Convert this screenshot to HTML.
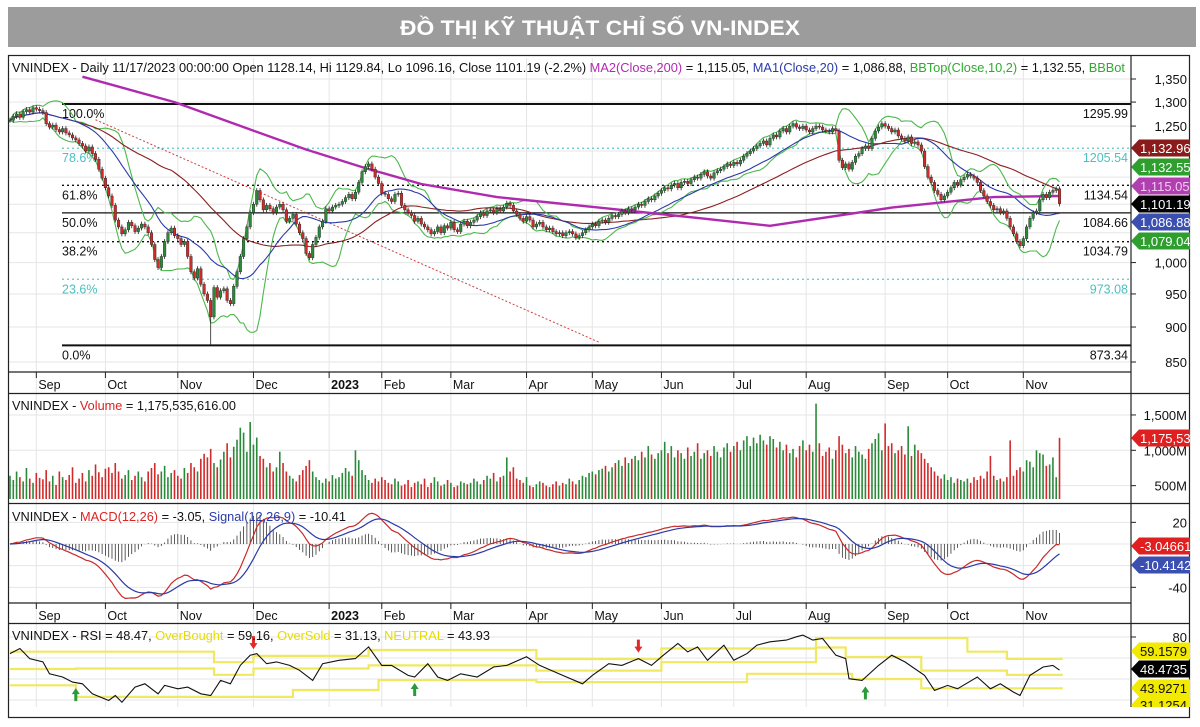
<!DOCTYPE html>
<html><head><meta charset="utf-8"><title>VN-INDEX technical chart</title>
<style>
html,body{margin:0;padding:0;background:#fff;}
svg{display:block;font-family:"Liberation Sans","Noto Sans CJK SC",sans-serif;}
</style></head>
<body>
<svg id="chart" width="1200" height="727" viewBox="0 0 1200 727" xmlns="http://www.w3.org/2000/svg">
<defs>
<clipPath id="cpMain"><rect x="8" y="58" width="1123" height="314"/></clipPath>
<clipPath id="cpVol"><rect x="8" y="394" width="1123" height="109"/></clipPath>
<clipPath id="cpMacd"><rect x="8" y="504" width="1123" height="99"/></clipPath>
<clipPath id="cpRsi"><rect x="8" y="624" width="1123" height="92"/></clipPath>
<clipPath id="cpRight"><rect x="1131" y="55" width="59" height="652"/></clipPath>
</defs>
<rect x="0" y="0" width="1200" height="727" fill="#fff"/>
<rect x="8" y="7" width="1188" height="40" fill="#9c9c9c"/>
<text x="600" y="35" text-anchor="middle" fill="#fff" font-weight="bold" font-size="21" textLength="400" lengthAdjust="spacingAndGlyphs">ĐỒ THỊ KỸ THUẬT CHỈ SỐ VN-INDEX</text>

<g id="grid"></g>
<g id="marks"></g>

<g fill="none" stroke="#222" stroke-width="1.2">
<rect x="8.5" y="55.5" width="1181" height="662"/>
<line x1="1131" y1="55" x2="1131" y2="707"/>
<line x1="8" y1="372" x2="1131" y2="372"/>
<line x1="8" y1="393.5" x2="1190" y2="393.5"/>
<line x1="8" y1="503.5" x2="1190" y2="503.5"/>
<line x1="8" y1="603" x2="1131" y2="603"/>
<line x1="8" y1="623.5" x2="1190" y2="623.5"/>
</g>

<text x="12" y="72" font-size="13" textLength="1113" lengthAdjust="spacingAndGlyphs" fill="#111">VNINDEX - Daily 11/17/2023 00:00:00 Open 1128.14, Hi 1129.84, Lo 1096.16, Close 1101.19 (-2.2%) <tspan fill="#b02ab0">MA2(Close,200)</tspan> = 1,115.05, <tspan fill="#2a3aa8">MA1(Close,20)</tspan> = 1,086.88, <tspan fill="#2faa2f">BBTop(Close,10,2)</tspan> = 1,132.55, <tspan fill="#2faa2f">BBBot</tspan></text>
<text x="12" y="410" font-size="13" textLength="224" lengthAdjust="spacingAndGlyphs" fill="#111">VNINDEX - <tspan fill="#d22">Volume</tspan> = 1,175,535,616.00</text>
<text x="12" y="521" font-size="13" textLength="334" lengthAdjust="spacingAndGlyphs" fill="#111">VNINDEX - <tspan fill="#d22">MACD(12,26)</tspan> = -3.05, <tspan fill="#2a3aa8">Signal(12,26,9)</tspan> = -10.41</text>
<text x="12" y="640" font-size="13" textLength="478" lengthAdjust="spacingAndGlyphs" fill="#111">VNINDEX - RSI = 48.47, <tspan fill="#e6dc00">OverBought</tspan> = 59.16, <tspan fill="#e6dc00">OverSold</tspan> = 31.13, <tspan fill="#e6dc00">NEUTRAL</tspan> = 43.93</text>
<g id="right" clip-path="url(#cpRight)"></g>
</svg>
<script>
// ===== data =====
const closes = [1262,1270,1275,1268,1280,1284,1279,1288,1285,1282,
1278,1255,1248,1252,1243,1238,1245,1236,1232,1226,
1222,1215,1210,1200,1208,1195,1184,1165,1148,1130,
1115,1098,1072,1060,1048,1055,1068,1062,1052,1058,
1065,1060,1050,1030,1005,992,1010,1035,1050,1058,
1045,1040,1030,1035,1010,985,975,990,965,950,
940,915,960,945,955,958,940,935,962,985,
1010,1040,1060,1085,1100,1125,1108,1090,1098,1092,
1085,1095,1100,1090,1070,1075,1082,1065,1050,1040,
1015,1008,1030,1042,1060,1070,1092,1088,1095,1098,
1100,1105,1112,1118,1110,1122,1140,1160,1170,1175,
1165,1150,1138,1120,1118,1110,1105,1118,1120,1098,
1090,1085,1080,1070,1075,1065,1060,1055,1048,1052,
1060,1050,1062,1058,1068,1055,1052,1065,1070,1062,
1068,1072,1078,1085,1080,1088,1090,1085,1092,1088,
1095,1102,1098,1088,1082,1075,1070,1078,1072,1060,
1065,1068,1060,1055,1058,1052,1048,1050,1045,1050,
1052,1048,1042,1045,1050,1055,1060,1065,1062,1070,
1072,1068,1075,1080,1078,1082,1088,1085,1092,1090,
1095,1100,1098,1105,1110,1108,1115,1120,1125,1130,
1128,1135,1138,1130,1140,1142,1138,1145,1150,1148,
1155,1160,1152,1148,1158,1162,1165,1170,1175,1172,
1178,1175,1182,1190,1195,1200,1205,1210,1215,1220,
1212,1225,1232,1228,1240,1245,1238,1250,1255,1248,
1245,1250,1242,1238,1245,1250,1248,1242,1240,1238,
1245,1240,1182,1168,1175,1165,1178,1190,1195,1205,
1210,1205,1225,1240,1248,1255,1250,1245,1238,1242,
1230,1225,1220,1228,1215,1218,1212,1200,1170,1150,
1140,1125,1118,1108,1115,1122,1130,1140,1135,1145,
1150,1155,1152,1148,1140,1125,1115,1105,1098,1090,
1092,1085,1088,1075,1060,1048,1035,1028,1040,1060,
1075,1085,1088,1108,1118,1112,1122,1125,1128.14,1101.19];
const lastOpen = 1128.14;
const lowOverride = {61: 873.34, 319: 1096.16};
const volumes = [640,580,700,620,560,750,600,540,680,610,
590,720,560,640,510,700,620,580,650,760,
540,600,680,560,720,640,800,690,620,740,
760,680,820,700,600,650,720,580,640,700,
620,560,700,750,820,660,700,780,620,680,
720,640,600,750,680,820,760,700,880,950,
900,1020,820,760,870,980,1100,900,1050,1150,
1320,1250,980,1400,1080,1180,920,880,760,820,
700,760,980,820,700,640,600,560,650,720,
780,860,700,620,580,540,600,560,650,600,
620,680,750,700,640,1000,860,720,650,580,
540,600,560,620,580,540,520,600,560,500,
520,580,480,540,560,520,600,480,540,620,
560,500,520,580,540,480,500,560,540,520,
540,600,560,520,580,640,600,680,560,620,
640,900,700,760,600,580,540,620,500,480,
520,560,540,500,480,520,560,500,540,520,
600,560,520,580,640,620,680,700,660,720,
740,780,700,760,820,860,780,900,820,880,
920,860,980,900,1060,940,880,960,1000,1120,
960,1060,900,1000,960,880,1040,920,980,1100,
880,960,1000,920,1060,980,900,1040,1100,980,
1060,1120,1000,1140,1200,1060,1180,1100,1220,1140,
1080,1200,1160,1040,1120,1000,1080,960,1020,900,
1060,1140,1000,1080,980,1660,1100,920,980,1040,
880,1000,1200,1080,960,1020,900,1060,980,940,
880,1020,1100,1160,1240,1000,1380,1060,1100,960,
1000,1060,940,1340,920,1080,1000,960,880,820,
760,700,640,600,660,580,620,540,600,580,
560,600,540,620,580,640,600,700,920,640,
580,600,560,620,1140,640,720,760,700,860,
840,760,1000,960,940,780,800,900,620,1176];
const ma200Idx = [22,50,73,90,108,125,148,179,210,231,268,299,319];
const ma200Val = [1355,1300,1243,1203,1167,1137,1113,1094,1075,1062,1094,1113,1115.05];
const rsiIdx = [0,3,6,10,12,16,19,22,25,30,32,34,38,41,45,47,51,54,58,61,64,67,70,73,75,78,81,85,88,92,95,100,105,109,113,116,121,123,127,130,133,137,142,147,151,157,161,168,174,177,182,186,191,195,198,203,206,209,212,217,220,224,227,231,236,239,241,244,247,251,254,255,259,264,268,272,278,281,285,288,294,298,301,305,307,310,314,317,319];
const rsiVal = [64.2,69,59.4,56.3,45,41.9,37,35.4,25.9,19.5,24.3,17.9,32.3,35.4,25.9,33.9,30.7,32.3,25.9,24.3,38.7,35.4,53,62.7,64.2,54.6,56.3,53,48.3,38.7,54.6,57.8,59.4,70.6,53,53,43.4,41.9,54.6,41.9,38.7,45,41.9,51.4,53,61.1,53,43.4,35.4,43.4,54.6,53,59.4,53,61.1,73.8,65.8,70.6,57.8,72.2,57.8,64.2,72.2,75.4,77,80.2,81.8,77,78.6,62.7,59.4,40.3,38.7,53,62.7,56.3,43.4,29.1,33.9,30.7,41.9,30.7,35.4,27.5,24.3,43.4,51.4,53,48.47];
const fibVals = [1295.99,1205.54,1134.54,1084.66,1034.79,973.08,873.34];
const fibLabels = ['100.0%','78.6%','61.8%','50.0%','38.2%','23.6%','0.0%'];
const fibStyle = ['solid','cyan','dot','solid','dot','cyan','solid'];
const trendIdx = [26,179];
const trendVal = [1263,878];
const monthLabels = ['Sep','Oct','Nov','Dec','2023','Feb','Mar','Apr','May','Jun','Jul','Aug','Sep','Oct','Nov'];
const monthIdx = [8,29,51,74,97,113,134,157,177,198,220,242,266,285,308];
const priceTicks = [1350,1300,1250,1000,950,900,850];
const priceGrid = [1350,1300,1250,1200,1150,1100,1050,1000,950,900,850];
const volTicks = [500,1000,1500];
const macdTicks = [20,-40];
const macdGrid = [20,0,-20,-40];
const rsiTicks = [80];
const rsiGrid = [80,60,40,20];
const obStart = [0,62,74,109,160,198,245,291,303];
const obVal = [66,56,62,67.6,59,69,79,66,59.16];
const neuStart = [0,20,62,74,109,160,198,245,254,277,303];
const neuVal = [49.5,50,44,50,53,48,56,70,61,48,43.93];
const osStart = [0,20,86,112,160,224,256,277];
const osVal = [34,23,29.5,39,37,45,40,31.13];
const buyArrowIdx = [20,123,260];
const sellArrowIdx = [74,191];

// ===== scales =====
const NS='http://www.w3.org/2000/svg';
const gGrid=document.getElementById('grid'), gMarks=document.getElementById('marks'), gRight=document.getElementById('right');
function mk(tag,attrs,parent){const e=document.createElementNS(NS,tag);for(const k in attrs)e.setAttribute(k,attrs[k]);parent.appendChild(e);return e;}
const xOf = i => 10 + i*3.29;
const yP = v => 79 + (Math.log(1350)-Math.log(v))*611.7;
const yV = v => 521 - v*0.0707;
const yM = m => 544 - m*1.083;
const yR = r => 637 + (80-r)*1.05;
const N = closes.length;
const GREEN='#2b8a3a', RED='#d02a2a';

// ===== grid =====
for(const v of priceGrid){const l=mk('line',{x1:8,x2:1131,y1:yP(v),y2:yP(v),stroke:'#e6e6e6'},gGrid);

}
for(const v of volTicks){const l=mk('line',{x1:8,x2:1131,y1:yV(v),y2:yV(v),stroke:'#e6e6e6'},gGrid);

}
for(const v of macdGrid){const l=mk('line',{x1:8,x2:1131,y1:yM(v),y2:yM(v),stroke:'#e6e6e6'},gGrid);

}
for(const v of rsiGrid){const l=mk('line',{x1:8,x2:1131,y1:yR(v),y2:yR(v),stroke:'#e6e6e6'},gGrid);

}
monthIdx.forEach((mi,k)=>{
  const x=xOf(mi);
  const l=mk('line',{x1:x,x2:x,y1:58,y2:707,stroke:'#e6e6e6'},gGrid);
  
  
  for(const [yt,yl] of [[372,385],[603,616]]){
    const t=mk('line',{x1:x,x2:x,y1:yt,y2:yt+6,stroke:'#222'},gGrid);
    
    
    const tx=mk('text',{x:x+2,y:yl+4,'font-size':12.5,fill:'#111','font-weight':monthLabels[k]==='2023'?'bold':'normal'},gGrid);
    tx.textContent=monthLabels[k];
    
    
  }
});

// ===== fib levels & trendline =====
const gMain=mk('g',{'clip-path':'url(#cpMain)'},gMarks);
fibVals.forEach((v,k)=>{
  const y=yP(v), st=fibStyle[k];
  const a={x1:62,x2:1131,y1:y,y2:y};
  if(st==='solid'){a.stroke='#111';a['stroke-width']=(k===0||k===6)?2:1.3;}
  else if(st==='dot'){a.stroke='#111';a['stroke-width']=1.4;a['stroke-dasharray']='2,3';}
  else {a.stroke='#5cc8c8';a['stroke-width']=1.2;a['stroke-dasharray']='2,3';}
  const l=mk('line',a,gMain);
  
  
  const col=st==='cyan'?'#4cc0c0':'#111';
  const t1=mk('text',{x:62,y:y+14,'font-size':12.5,fill:col},gMain);
  t1.textContent=fibLabels[k];
  
  
  const t2=mk('text',{x:1128,y:y+14,'font-size':12.5,fill:col,'text-anchor':'end'},gMain);
  t2.textContent=v.toFixed(2);
  
  
});
const tl=mk('line',{x1:xOf(trendIdx[0]),y1:yP(trendVal[0]),x2:xOf(trendIdx[1]),y2:yP(trendVal[1]),stroke:'#d04040','stroke-dasharray':'2,2'},gMain);



// ===== indicators =====
function sma(p){return closes.map((c,i)=>{const s=Math.max(0,i-p+1);const w=closes.slice(s,i+1);return w.reduce((a,b)=>a+b,0)/w.length;});}
function line(pts,attrs,parent,name){const e=mk('polyline',Object.assign({points:pts.map(p=>p[0].toFixed(1)+','+p[1].toFixed(1)).join(' '),fill:'none'},attrs),parent);

return e;}
const ma20=sma(20), ma50=sma(50), ma10=sma(10);
const bbU=[],bbL=[];
closes.forEach((c,i)=>{const s=Math.max(0,i-9);const w=closes.slice(s,i+1);const m=ma10[i];const sd=Math.sqrt(w.reduce((a,b)=>a+(b-m)*(b-m),0)/w.length);bbU.push(m+2*sd);bbL.push(m-2*sd);});
line(bbU.map((v,i)=>[xOf(i),yP(v)]),{stroke:'#4cb84c','stroke-width':1.1},gMain,'bollinger-top');
line(bbL.map((v,i)=>[xOf(i),yP(v)]),{stroke:'#4cb84c','stroke-width':1.1},gMain,'bollinger-bottom');
line(ma50.map((v,i)=>[xOf(i),yP(v)]),{stroke:'#8b2020','stroke-width':1.1},gMain,'ma50-line');
line(ma20.map((v,i)=>[xOf(i),yP(v)]),{stroke:'#2a3aa8','stroke-width':1.1},gMain,'ma20-line');
line(ma200Idx.map((ix,k)=>[xOf(ix),yP(ma200Val[k])]),{stroke:'#b02ab0','stroke-width':2.4,'stroke-linejoin':'round'},gMain,'ma200-line');

// ===== candles =====
for(let i=0;i<N;i++){
  const c=closes[i], o=(i===N-1)?lastOpen:(i?closes[i-1]:c);
  const hi=Math.max(o,c)*1.004, lo=(lowOverride[i]!==undefined)?lowOverride[i]:Math.min(o,c)*0.996;
  const col=c>=o?GREEN:RED, x=xOf(i);
  const w=mk('line',{x1:x,x2:x,y1:yP(hi),y2:yP(lo),stroke:'#222','stroke-width':0.8},gMain);
  
  
  const y1=yP(Math.max(o,c)), y2=yP(Math.min(o,c));
  const b=mk('rect',{x:x-1.3,y:y1,width:2.6,height:Math.max(1,y2-y1),fill:col,stroke:'#222','stroke-width':0.4},gMain);
  
  
}

// ===== volume =====
const gVol=mk('g',{'clip-path':'url(#cpVol)'},gMarks);
volumes.forEach((v,i)=>{
  const up=i===0||closes[i]>=closes[i-1];
  const r=mk('rect',{x:xOf(i)-0.8,y:yV(v),width:1.6,height:Math.max(0,499-yV(v)),fill:up?GREEN:RED},gVol);
  
  
});

// ===== MACD =====
function ema(arr,p){const k=2/(p+1);const out=[];arr.forEach((v,i)=>out.push(i?v*k+out[i-1]*(1-k):v));return out;}
const e12=ema(closes,12), e26=ema(closes,26);
const macd=e12.map((v,i)=>v-e26[i]);
const sig=ema(macd,9);
const gM=mk('g',{'clip-path':'url(#cpMacd)'},gMarks);
macd.forEach((m,i)=>{
  const h=(m-sig[i])*1.2;
  const r=mk('line',{x1:xOf(i),x2:xOf(i),y1:yM(0),y2:yM(h),stroke:'#333','stroke-width':0.8},gM);
  
  
});
line(macd.map((v,i)=>[xOf(i),yM(v)]),{stroke:'#c82a2a','stroke-width':1.2},gM,'macd-line');
line(sig.map((v,i)=>[xOf(i),yM(v)]),{stroke:'#2a3aa8','stroke-width':1.2},gM,'signal-line');

// ===== RSI =====
const gR=mk('g',{'clip-path':'url(#cpRsi)'},gMarks);
function stepPts(starts,vals){const pts=[];starts.forEach((s,k)=>{const e=k<starts.length-1?starts[k+1]:N;pts.push([xOf(s),yR(vals[k])]);pts.push([xOf(e),yR(vals[k])]);});return pts;}
line(stepPts(obStart,obVal),{stroke:'#f0e860','stroke-width':2.2},gR,'overbought-line');
line(stepPts(neuStart,neuVal),{stroke:'#f0e860','stroke-width':2.2},gR,'neutral-line');
line(stepPts(osStart,osVal),{stroke:'#f0e860','stroke-width':2.2},gR,'oversold-line');
line(rsiIdx.map((ix,k)=>[xOf(ix),yR(rsiVal[k])]),{stroke:'#111','stroke-width':1.1},gR,'rsi-line');
function rsiAt(ix){let k=0;while(k<rsiIdx.length-1&&rsiIdx[k+1]<=ix)k++;return rsiVal[k];}
buyArrowIdx.forEach(ix=>{const x=xOf(ix),y=yR(rsiAt(ix))+6;
const a=mk('path',{d:`M${x},${y} l-4,6 h2.5 v7 h3 v-7 h2.5 z`,fill:'#2a9a3a'},gR);

});
sellArrowIdx.forEach(ix=>{const x=xOf(ix),y=yR(rsiAt(ix))-6;
const a=mk('path',{d:`M${x},${y} l-4,-6 h2.5 v-7 h3 v7 h2.5 z`,fill:'#e02a2a'},gR);

});

// ===== right axis =====
function tick(y,label,name){
  const t=mk('line',{x1:1131,x2:1136,y1:y,y2:y,stroke:'#222'},gRight);
  
  
  const tx=mk('text',{x:1187,y:y+5,'font-size':13,'text-anchor':'end',fill:'#111'},gRight);
  tx.textContent=label;
  
  
}
priceTicks.forEach(v=>tick(yP(v),v.toLocaleString('en-US'),'price-axis'));
volTicks.forEach(v=>tick(yV(v),v.toLocaleString('en-US')+'M','volume-axis'));
macdTicks.forEach(v=>tick(yM(v),String(v),'macd-axis'));
rsiTicks.forEach(v=>tick(yR(v),String(v),'rsi-axis'));
function badge(y,label,bg,fg,name){
  const p=mk('path',{d:`M1131,${y} l8,-8.5 h62 v17 h-62 z`,fill:bg},gRight);
  
  
  const t=mk('text',{x:1140,y:y+5,'font-size':13,fill:fg},gRight);
  t.textContent=label;
  
  
}
badge(148,'1,132.96','#8b1a1a','#fff','ma50-badge');
badge(167,'1,132.55','#2e9e2e','#fff','bbtop-badge');
badge(186,'1,115.05','#b03fb0','#f4c8f4','ma200-badge');
badge(204,'1,101.19','#000','#fff','close-badge');
badge(222,'1,086.88','#3a4fb0','#fff','ma20-badge');
badge(241,'1,079.04','#2e9e2e','#fff','bbbot-badge');
badge(438,'1,175,535','#e02020','#fff','volume-badge');
badge(546,'-3.04661','#e02020','#fff','macd-badge');
badge(565,'-10.4142','#3a4fb0','#fff','signal-badge');
badge(651,'59.1579','#f2ea00','#111','overbought-badge');
badge(669,'48.4735','#000','#fff','rsi-badge');
badge(688,'43.9271','#f2ea00','#111','neutral-badge');
badge(705,'31.1254','#f2ea00','#111','oversold-badge');
</script>
</body></html>
